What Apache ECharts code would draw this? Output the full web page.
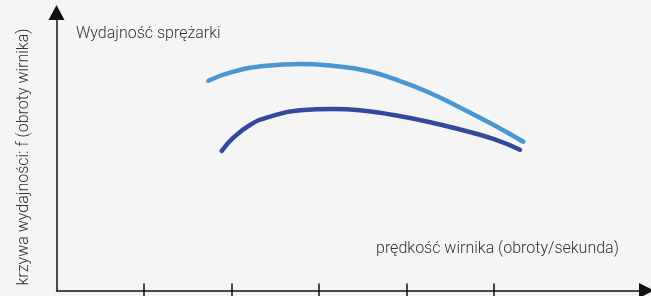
<!DOCTYPE html>
<html>
<head>
<meta charset="utf-8">
<script src="https://cdn.jsdelivr.net/npm/echarts@6/dist/echarts.min.js"></script>
<style>
  html, body { margin: 0; padding: 0; background: #f5f5f5; }
  #chart { width: 651px; height: 296px; }
</style>
</head>
<body>
<div id="chart"></div>
<script>
// data (arbitrary units)
var upperX = [1.735, 2.021, 2.402, 2.783, 3.163, 3.545, 3.849, 4.231, 4.611, 4.992, 5.335];
var upperY = [7.547, 7.871, 8.086, 8.147, 8.076, 7.906, 7.620, 7.160, 6.580, 5.960, 5.353];
var lowerX = [1.888, 2.021, 2.211, 2.402, 2.783, 3.163, 3.545, 3.849, 4.231, 4.611, 4.992, 5.297];
var lowerY = [5.018, 5.496, 5.953, 6.216, 6.482, 6.529, 6.457, 6.313, 6.080, 5.790, 5.450, 5.060];
var xTicks = [1, 2, 3, 4, 5];

var titleText = 'Wydajność sprężarki';
var xName = 'prędkość wirnika (obroty/sekunda)';
var yName = 'krzywa wydajności: f (obroty wirnika)';

function pairs(xs, ys) {
  return xs.map(function (x, i) { return [x, ys[i]]; });
}

var chart = echarts.init(document.getElementById('chart'));

var axisCommon = {
  type: 'value',
  min: 0,
  axisLabel: { show: false },
  splitLine: { show: false }
};

var option = {
  backgroundColor: '#f5f5f5',
  animation: false,
  grid: { left: 56.5, right: 4.5, top: 12.5, bottom: 5.5 },
  xAxis: [
    Object.assign({}, axisCommon, {
      max: 6.743,
      axisLine: {
        show: true,
        symbol: ['none', 'triangle'],
        symbolSize: [15, 15],
        lineStyle: { color: '#111', width: 1.5 }
      },
      axisTick: {
        show: true, inside: false, length: 12,
        customValues: xTicks,
        lineStyle: { color: '#111', width: 1.5 }
      }
    }),
    Object.assign({}, axisCommon, {
      max: 6.743,
      position: 'bottom',
      axisLine: { show: false },
      axisTick: {
        show: true, inside: true, length: 7,
        customValues: xTicks,
        lineStyle: { color: '#111', width: 1.5 }
      }
    })
  ],
  yAxis: Object.assign({}, axisCommon, {
    max: 10,
    axisLine: {
      show: true,
      symbol: ['none', 'triangle'],
      symbolSize: [16, 15],
      lineStyle: { color: '#111', width: 1.5 }
    },
    axisTick: { show: false }
  }),
  graphic: [
    {
      type: 'text', left: 76, top: 26,
      style: { text: titleText, fill: '#333', font: '300 16px Roboto' }
    },
    {
      type: 'text', left: 376, top: 241,
      style: { text: xName, fill: '#333', font: '300 16px Roboto' }
    },
    {
      type: 'text', x: 24, y: 157, rotation: Math.PI / 2,
      style: {
        text: yName, fill: '#333', font: '300 16px Roboto',
        align: 'center', verticalAlign: 'middle'
      }
    }
  ],
  series: [
    {
      type: 'line',
      data: pairs(upperX, upperY),
      smooth: 0.5,
      smoothMonotone: 'none',
      showSymbol: false,
      lineStyle: { color: '#4896d2', width: 4.5, cap: 'round' }
    },
    {
      type: 'line',
      data: pairs(lowerX, lowerY),
      smooth: 0.5,
      smoothMonotone: 'none',
      showSymbol: false,
      lineStyle: { color: '#34499c', width: 4.5, cap: 'round' }
    }
  ]
};

chart.setOption(option);
</script>
</body>
</html>
